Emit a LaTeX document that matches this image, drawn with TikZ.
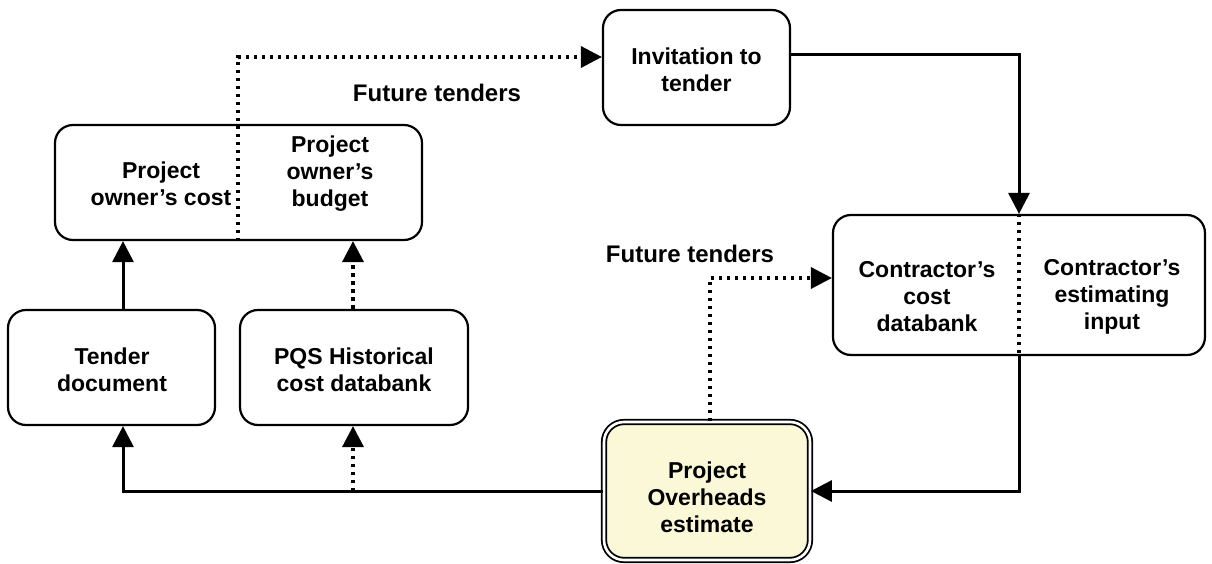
\documentclass[tikz,border=0pt]{standalone}
\usepackage{fontspec}
\setmainfont{Liberation Sans}
\usetikzlibrary{arrows.meta}
\begin{document}
\begin{tikzpicture}[x=1pt,y=-1pt,
  box/.style={draw, line width=2.2pt, rounded corners=18pt, inner sep=0pt},
  txt/.style={align=center, font=\fontsize{23}{27}\selectfont\bfseries},
  lbl/.style={font=\fontsize{24}{28}\selectfont\bfseries},
  link/.style={line width=3pt, -{Triangle[length=21pt,width=21pt]}},
  dotlink/.style={line width=3.5pt, dash pattern=on 3.5pt off 4.5pt, -{Triangle[length=21pt,width=21pt]}},
  divider/.style={line width=3.2pt, dash pattern=on 3.5pt off 4.5pt}]
\useasboundingbox[fill=white] (0,0) rectangle (1212,564);

% boxes
\node[box, minimum width=367pt, minimum height=115pt] (owner) at (238.5,182.5) {};
\node[box, minimum width=187pt, minimum height=115pt] (invite) at (696.5,67.5) {};
\node[box, minimum width=372pt, minimum height=140pt] (contr) at (1019,285) {};
\node[box, minimum width=207pt, minimum height=115pt] (tender) at (111.5,367.5) {};
\node[box, minimum width=228pt, minimum height=115pt] (pqs) at (354,367.5) {};
\node[draw, line width=1.8pt, double=white, double distance=2.6pt, fill={rgb,255:red,250;green,248;blue,214},
      rounded corners=20pt, minimum width=206pt, minimum height=138pt] (po) at (707,491) {};

% box texts
\node[txt] (ownc) at (161,184) {Project\\owner’s cost};
\node[txt] (ownb) at (330,174) {Project\\owner’s\\budget};
\node[txt] (invt) at (696.5,70) {Invitation to\\tender};
\node[txt] (cdb) at (927,297) {Contractor’s\\cost\\databank};
\node[txt] (cei) at (1112,297) {Contractor’s\\estimating\\input};
\node[txt] (tdt) at (112,370) {Tender\\document};
\node[txt] (pqt) at (354,370) {PQS Historical\\cost databank};
\node[txt] (pot) at (707,497) {Project\\Overheads\\estimate};

% labels
\node[lbl] (ft1) at (437,93) {Future tenders};
\node[lbl] (ft2) at (690,254) {Future tenders};

% bend points
\coordinate (a1) at (238,57);
\coordinate (a2) at (1019,55);
\coordinate (a3) at (1019,491);
\coordinate (a4) at (710,278);
\coordinate (a5) at (123,491);
\coordinate (a6) at (353,491);

% connectors
\draw[dotlink] (owner.south -| a1) -- (a1) -- (invite.west |- a1);
\draw[link] (invite.east |- a2) -- (a2) -- (contr.north);
\draw[divider] (contr.north) -- (contr.south);
\draw[link] (contr.south) -- (a3) -- (po.east);
\draw[dotlink] (po.north -| a4) -- (a4) -- (contr.west |- a4);
\draw[link] (po.west) -- (a5) -- (tender.south -| a5);
\draw[dotlink] (a6) -- (pqs.south -| a6);
\draw[link] (tender.north -| a5) -- (owner.south -| a5);
\draw[dotlink] (pqs.north -| a6) -- (owner.south -| a6);
\end{tikzpicture}
\end{document}
